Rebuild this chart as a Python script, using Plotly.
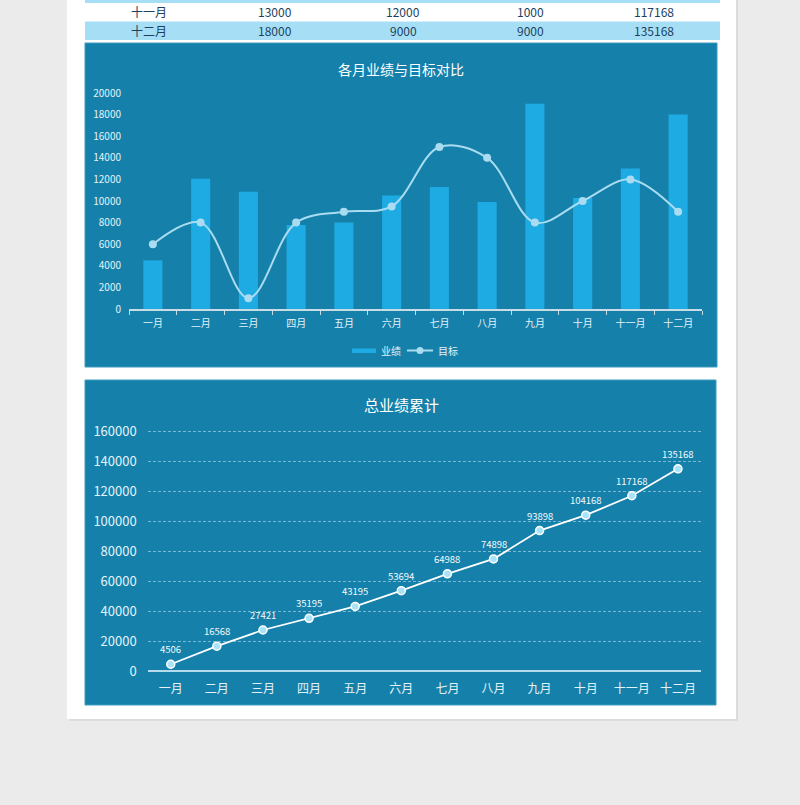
import plotly.graph_objects as go

# ---------------- data ----------------
months = ['一月', '二月', '三月', '四月', '五月', '六月', '七月', '八月', '九月', '十月', '十一月', '十二月']
actual = [4506, 12062, 10853, 7774, 8000, 10499, 11294, 9910, 19000, 10270, 13000, 18000]
target = [6000, 8000, 1000, 8000, 9000, 9500, 15000, 14000, 8000, 10000, 12000, 9000]
cumulative = [4506, 16568, 27421, 35195, 43195, 53694, 64988, 74898, 93898, 104168, 117168, 135168]
y1_ticks = list(range(0, 20001, 2000))
y2_ticks = list(range(0, 160001, 20000))
table_rows = [10, 11]  # indices of visible table rows

W, H = 800, 805
FONT = "Noto Sans CJK SC"
PANEL = "#1581ab"
BAR = "#1eaae2"
LINE1 = "#a9dcf1"
TICKC = "#e3f2f9"
TABLE_BLUE = "#a6dff5"
TABLE_TXT = "#1c3f5e"


def px(x):
    return x / W


def py(y):
    return 1 - y / H


fig = go.Figure()

# Chart 1: bars + smoothed target line
fig.add_trace(go.Bar(x=months, y=actual, name='业绩', marker=dict(color=BAR, line=dict(width=0)),
                     width=0.4, xaxis='x', yaxis='y', showlegend=False))
fig.add_trace(go.Scatter(x=months, y=target, name='目标', mode='lines+markers',
                         line=dict(color=LINE1, width=2, shape='spline', smoothing=1.0),
                         marker=dict(color=LINE1, size=8), xaxis='x', yaxis='y', showlegend=False))

# Chart 2: cumulative
fig.add_trace(go.Scatter(x=months, y=cumulative, mode='lines+markers',
                         line=dict(color='white', width=1.8),
                         marker=dict(color='#a9e3fa', size=8, line=dict(color='white', width=1.5)),
                         xaxis='x2', yaxis='y2', showlegend=False))

shapes = []
# page
shapes.append(dict(type='rect', xref='paper', yref='paper', x0=px(69), x1=px(738), y0=py(721), y1=py(-5),
                   fillcolor='#dcdcdc', line=dict(width=0), layer='below'))
shapes.append(dict(type='rect', xref='paper', yref='paper', x0=px(67), x1=px(736), y0=py(719), y1=py(-5),
                   fillcolor='white', line=dict(width=0), layer='below'))
# table rows
shapes.append(dict(type='rect', xref='paper', yref='paper', x0=px(85), x1=px(720), y0=py(3), y1=py(-5),
                   fillcolor=TABLE_BLUE, line=dict(width=0), layer='below'))
shapes.append(dict(type='rect', xref='paper', yref='paper', x0=px(85), x1=px(720), y0=py(40), y1=py(21.5),
                   fillcolor=TABLE_BLUE, line=dict(width=0), layer='below'))
# panels
shapes.append(dict(type='rect', xref='paper', yref='paper', x0=px(85), x1=px(717), y0=py(367), y1=py(43),
                   fillcolor=PANEL, line=dict(color='#3f9cc2', width=1), layer='below'))
shapes.append(dict(type='rect', xref='paper', yref='paper', x0=px(85), x1=px(716), y0=py(705), y1=py(380),
                   fillcolor=PANEL, line=dict(color='#3f9cc2', width=1), layer='below'))
# custom legend symbols
shapes.append(dict(type='rect', xref='paper', yref='paper', x0=px(352), x1=px(376), y0=py(353), y1=py(348.5),
                   fillcolor=BAR, line=dict(width=0)))
shapes.append(dict(type='line', xref='paper', yref='paper', x0=px(407), x1=px(433), y0=py(350.5), y1=py(350.5),
                   line=dict(color=LINE1, width=2)))
shapes.append(dict(type='circle', xref='paper', yref='paper', x0=px(416.5), x1=px(423.5), y0=py(354), y1=py(347),
                   fillcolor=LINE1, line=dict(width=0)))

annotations = []
col_x = [149, 275, 403, 530, 654]
row_y = [12, 31]
for ri, idx in zip(row_y, table_rows):
    vals = [months[idx], str(actual[idx]), str(target[idx]), str(actual[idx] - target[idx]), str(cumulative[idx])]
    for cx, v in zip(col_x, vals):
        annotations.append(dict(x=px(cx), y=py(ri), xref='paper', yref='paper', text=v, showarrow=False,
                                xanchor='center', yanchor='middle',
                                font=dict(family=FONT, size=12, color=TABLE_TXT)))

annotations.append(dict(x=px(401), y=py(69), xref='paper', yref='paper', text='各月业绩与目标对比', showarrow=False,
                        xanchor='center', yanchor='middle', font=dict(family=FONT, size=14, color='white')))
annotations.append(dict(x=px(401), y=py(404), xref='paper', yref='paper', text='总业绩累计', showarrow=False,
                        xanchor='center', yanchor='middle', font=dict(family=FONT, size=15, color='white')))
annotations.append(dict(x=px(379), y=py(350.5), xref='paper', yref='paper', text='业绩', showarrow=False,
                        xanchor='left', yanchor='middle', font=dict(family=FONT, size=10, color=TICKC)))
annotations.append(dict(x=px(436), y=py(350.5), xref='paper', yref='paper', text='目标', showarrow=False,
                        xanchor='left', yanchor='middle', font=dict(family=FONT, size=10, color=TICKC)))
# data labels for cumulative line
for m, v in zip(months, cumulative):
    annotations.append(dict(x=m, y=v, xref='x2', yref='y2', text=str(v), showarrow=False,
                            xanchor='center', yanchor='middle', yshift=15,
                            font=dict(family=FONT, size=9.5, color='#f2f9fc')))

# axes geometry
y1_top = 309 - 20400 * (216.0 / 20000)
y2_top = 671 - 162000 * (239.3 / 160000)

fig.update_layout(
    template='none',
    width=W, height=H,
    margin=dict(l=0, r=0, t=0, b=0, pad=0, autoexpand=False),
    paper_bgcolor='#ebebeb', plot_bgcolor='rgba(0,0,0,0)',
    font=dict(family=FONT),
    showlegend=False,
    shapes=shapes, annotations=annotations,
    xaxis=dict(domain=[px(129), px(702)], anchor='y', type='category', range=[-0.5, 11.5],
               showgrid=False, automargin=False,
               showline=True, linecolor='#c9dbe4', linewidth=1.5,
               ticks='outside', tickson='boundaries', ticklen=4, tickcolor='#c9dbe4', tickwidth=1,
               tickfont=dict(family=FONT, size=10, color=TICKC), ticklabelstandoff=4,
               fixedrange=True),
    yaxis=dict(domain=[py(309), py(y1_top)], anchor='x', range=[0, 20400], tickvals=y1_ticks,
               tickformat='d', automargin=False, ticks='',
               showgrid=False, zeroline=False, showline=False,
               tickfont=dict(family=FONT, size=10, color=TICKC), ticklabelstandoff=7),
    xaxis2=dict(domain=[px(147.7), px(701)], anchor='y2', type='category', range=[-0.5, 11.5],
                showgrid=False, automargin=False,
                showline=False, ticks='', zeroline=False,
                tickfont=dict(family=FONT, size=12, color=TICKC), ticklabelstandoff=9),
    yaxis2=dict(domain=[py(671), py(y2_top)], anchor='x2', range=[0, 162000], tickvals=y2_ticks,
                tickformat='d', automargin=False, ticks='',
                showgrid=True, gridcolor='rgba(200,230,245,0.55)', griddash='3px,2px', gridwidth=1,
                zeroline=True, zerolinecolor='#b5dcec', zerolinewidth=2, showline=False,
                tickfont=dict(family=FONT, size=13, color=TICKC), ticklabelstandoff=10),
)

fig.write_html("out.html")
